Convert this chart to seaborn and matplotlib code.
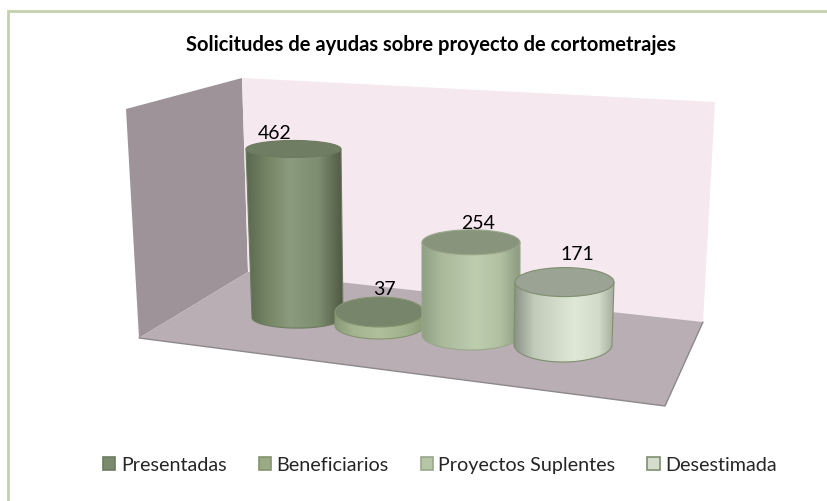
import numpy as np
import pandas as pd
import matplotlib
matplotlib.use("Agg")
import matplotlib.pyplot as plt
import seaborn as sns
from matplotlib.colors import LinearSegmentedColormap
from matplotlib.patches import Ellipse, PathPatch, Polygon
from matplotlib.path import Path

categorias = ["Presentadas", "Beneficiarios", "Proyectos Suplentes", "Desestimada"]
valores = [462, 37, 254, 171]
titulo = "Solicitudes de ayudas sobre proyecto de cortometrajes"

W, H = 827, 502
PX_POR_UNIDAD = 0.365

colores = ["#7b8a6d", "#9aaa85", "#b7c5a7", "#d4dccb"]
colores_borde = ["#6d7b60", "#84946f", "#98a88a", "#7f8f70"]
colores_tapa = ["#6f7d62", "#77856a", "#88947c", "#9ba394"]
gradientes = [
    [(0, "#5b6850"), (0.2, "#728262"), (0.45, "#8b9b7d"), (0.75, "#7d8d6f"), (0.93, "#5b684f"), (1, "#4e5a43")],
    [(0, "#8a9a78"), (0.2, "#a3b390"), (0.5, "#b0bf9c"), (0.8, "#a0b08c"), (1, "#8b9b78")],
    [(0, "#8f9f82"), (0.2, "#a9b99a"), (0.55, "#bfcdaf"), (0.8, "#b0c0a1"), (1, "#8d9c80")],
    [(0, "#8a9186"), (0.2, "#c2cbb9"), (0.6, "#dfe7d6"), (0.85, "#d2dbc9"), (1, "#a4ad9b")],
]

# geometria de la escena, en pixeles
cx_arriba = [293.5, 379.5, 471, 564.5]
rx_arriba = [47.5, 44.5, 49, 49.5]
ry_arriba = [8.5, 15, 12.5, 14.5]
cx_base = [297.5, 379.5, 471, 563]
rx_base = [45.5, 44.5, 49, 49]
ry_base = [10.5, 13.5, 15, 17.5]
y_base = [318.6, 326.5, 336, 345.5]
etiqueta_dx = [-19, 4.5, 7, 12.5]
etiqueta_dy = [16.5, 23, 20, 29]

sns.set_theme(style="white")
plt.rcParams["font.family"] = ["Lato", "DejaVu Sans"]

fig = plt.figure(figsize=(W / 100, H / 100), dpi=100, facecolor="white")

# fondo: marco, paredes y suelo
bg = fig.add_axes([0, 0, 1, 1])
bg.set_xlim(0, W)
bg.set_ylim(H, 0)
bg.axis("off")
bg.plot([8, 8, W], [H, 11.5, 11.5], color="#c4d1ad", lw=2, solid_joinstyle="miter")
bg.add_patch(Polygon([(126, 110), (242, 79), (248, 273), (139, 339)], fc="#9d9398", ec="none"))
bg.add_patch(Polygon([(242, 79), (715, 103), (703, 323), (248, 273)], fc="#f5e8ee", ec="none"))
bg.add_patch(Polygon([(248, 273), (703, 323), (665, 407), (139, 339)], fc="#b8aeb3", ec="none"))
bg.plot([139, 665, 703], [339, 407, 323], color="#8d888b", lw=1)

# barras en una escala de valores
ax = fig.add_axes([0, 0, 1, 1], facecolor="none")
df = pd.DataFrame({"categoria": categorias, "valor": valores})
sns.barplot(data=df, x="categoria", y="valor", hue="categoria", hue_order=categorias,
            palette=colores, dodge=False, saturation=1, ax=ax, legend=True)


def a_valor(py):
    return (H - py) / PX_POR_UNIDAD


for i, cont in enumerate(ax.containers):
    barra = cont[0]
    v_base = a_valor(y_base[i])
    v_top = v_base + barra.get_height()
    izq = max(cx_arriba[i] - rx_arriba[i], cx_base[i] - rx_base[i]) + 1
    der = min(cx_arriba[i] + rx_arriba[i], cx_base[i] + rx_base[i]) - 1
    barra.set_x(izq)
    barra.set_width(der - izq)
    barra.set_y(v_base)
    barra.set_zorder(2 + i)

    # silueta del cilindro
    t = np.linspace(np.pi, 2 * np.pi, 60)
    curva_x = cx_base[i] + rx_base[i] * np.cos(t)
    curva_y = v_base + ry_base[i] / PX_POR_UNIDAD * np.sin(t)
    xs = np.r_[cx_arriba[i] - rx_arriba[i], curva_x, cx_arriba[i] + rx_arriba[i]]
    ys = np.r_[v_top, curva_y, v_top]
    silueta = Path(np.column_stack([xs, ys]))

    # sombreado horizontal recortado a la silueta
    cmap = LinearSegmentedColormap.from_list(f"cil{i}", gradientes[i])
    im = ax.imshow(np.linspace(0, 1, 256).reshape(1, -1), cmap=cmap, aspect="auto",
                   extent=(xs.min(), xs.max(), curva_y.min(), v_top), zorder=2.1 + i)
    im.set_clip_path(PathPatch(silueta, transform=ax.transData))
    ax.add_patch(PathPatch(silueta, fc="none", ec=colores_borde[i], lw=0.8, zorder=2.2 + i))
    ax.add_patch(Ellipse((cx_arriba[i], v_top), 2 * rx_arriba[i], 2 * ry_arriba[i] / PX_POR_UNIDAD,
                         fc=colores_tapa[i], ec=colores_borde[i], lw=0.8, zorder=2.3 + i))
    ax.text(cx_arriba[i] + etiqueta_dx[i], v_top + etiqueta_dy[i] / PX_POR_UNIDAD, str(valores[i]),
            ha="center", va="center", fontsize=14, color="black", zorder=10)

ax.set_xlim(0, W)
ax.set_ylim(0, H / PX_POR_UNIDAD)
ax.axis("off")

sns.move_legend(ax, loc="center", bbox_to_anchor=(440 / W, 1 - 466 / H), ncol=4, title=None,
                frameon=False, fontsize=14.2, handlelength=0.62, handleheight=0.65,
                handletextpad=0.28, columnspacing=1.62, borderpad=0)
for h, c in zip(ax.get_legend().legend_handles, colores_borde):
    h.set_edgecolor(c)
    h.set_linewidth(1.2)

fig.text(431.5 / W, 1 - 45 / H, titulo, ha="center", va="center", fontsize=14.5, fontweight="bold", color="black")

fig.savefig("out.png", dpi=100)
